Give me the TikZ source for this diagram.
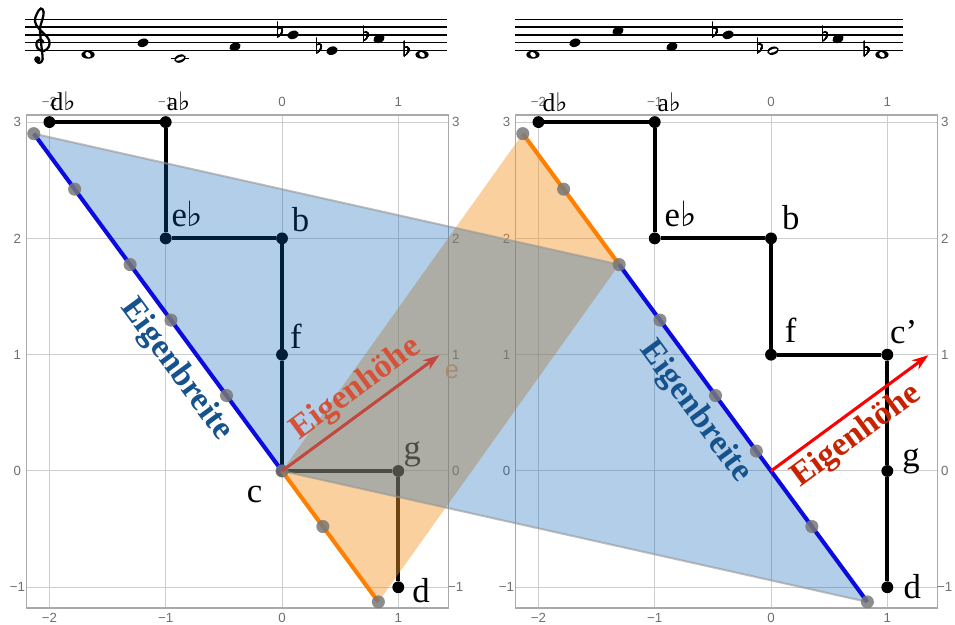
\documentclass[tikz,border=0pt]{standalone}
\usepackage{fontspec}
\setmainfont{Liberation Serif}
\setsansfont{Liberation Sans}
\newfontfamily\musicfont{DejaVu Sans}
\usetikzlibrary{arrows.meta,calc,positioning}

\definecolor{gridgray}{RGB}{205,205,205}
\definecolor{framegray}{RGB}{170,170,170}
\definecolor{tickgray}{RGB}{110,110,110}
\definecolor{projgray}{RGB}{120,120,120}
\definecolor{eigenblue}{RGB}{10,10,225}
\definecolor{eigenorange}{RGB}{255,128,0}
\definecolor{fillblue}{RGB}{6,97,181}
\definecolor{fillorange}{RGB}{245,150,40}
\definecolor{breitetext}{RGB}{22,82,140}
\definecolor{hoeheL}{RGB}{212,82,58}
\definecolor{arrowL}{RGB}{192,72,62}
\definecolor{hoeheR}{RGB}{200,35,0}
\definecolor{edgegray}{RGB}{150,150,150}
\definecolor{eorange}{RGB}{228,168,120}

\newcommand{\fl}{{\musicfont\bfseries ♭}}
\newcommand{\wholenote}[2]{%
  \fill (#1,#2) ellipse [x radius=0.057, y radius=0.035];
  \fill[white, rotate around={-40:(#1,#2)}] (#1,#2) ellipse [x radius=0.027, y radius=0.019];}
\newcommand{\halfnote}[2]{%
  \fill[rotate around={20:(#1,#2)}] (#1,#2) ellipse [x radius=0.051, y radius=0.034];
  \fill[white, rotate around={20:(#1,#2)}] (#1,#2) ellipse [x radius=0.038, y radius=0.014];}
\newcommand{\quarternote}[2]{%
  \fill[rotate around={20:(#1,#2)}] (#1,#2) ellipse [x radius=0.05, y radius=0.035];}

\begin{document}
\begin{tikzpicture}[x=2cm, y=2cm,
  every node/.style={inner sep=0pt, outer sep=0pt},
  gridline/.style={draw=gridgray, line width=0.5pt},
  frame/.style={draw=framegray, line width=0.6pt},
  tick/.style={font=\fontsize{6.5}{7}\sffamily, text=tickgray},
  staffline/.style={line width=0.6pt},
  flatsign/.style={anchor=base, font=\fontsize{10}{10}\selectfont},
  tonpath/.style={line width=2pt, line join=round},
  ton/.style={circle, fill=black, minimum size=5.8pt},
  proj/.style={circle, fill=projgray, fill opacity=0.85, minimum size=6.4pt},
  lab/.style={font=\fontsize{17}{17}\selectfont, anchor=base west},
  toplab/.style={lab, font=\fontsize{12.5}{13}\selectfont},
  breite/.style={font=\fontsize{16.5}{17}\selectfont\bfseries, text=breitetext, rotate=-53.65},
  hoehe/.style={font=\fontsize{16.5}{17}\selectfont\bfseries, rotate=36.35},
  ebline/.style={draw=eigenblue, line width=2pt},
  orline/.style={draw=eigenorange, line width=2pt},
  edge/.style={draw=edgegray, draw opacity=0.6, line width=1pt},
  arr/.style={-{Stealth[length=8pt,width=5.5pt]}, line width=1.5pt}]
\useasboundingbox (-2.425,-1.316) rectangle (5.787,4.050);

\foreach \o in {0,4.205} {
  \foreach \gx in {-2,-1,0,1} \draw[gridline] (\o+\gx,-1.178) -- (\o+\gx,3.061);
  \foreach \gy in {-1,0,1,2,3} \draw[gridline] (\o-2.197,\gy) -- (\o+1.431,\gy);
  \draw[frame] (\o-2.197,-1.178) rectangle (\o+1.431,3.061);
  \foreach \gx/\t in {-2/−2,-1/−1,0/0,1/1} {
    \node[tick] at (\o+\gx,3.17) {\t};
    \node[tick] at (\o+\gx,-1.262) {\t};
  }
  \foreach \gy/\t in {3/3,2/2,1/1,0/0,-1/−1} {
    \node[tick] at (\o-2.275,\gy) {\t};
    \node[tick] at (\o+1.494,\gy) {\t};
  }
}

\foreach \s in {0,2,4,6,8} {
  \draw[staffline] (-2.210,3.614+\s*0.0339) -- (1.419,3.614+\s*0.0339);
  \draw[staffline] (2.003,3.614+\s*0.0339) -- (5.340,3.614+\s*0.0339);
}
\begin{scope}[shift={(-4.14cm,7.364cm)}, x=0.1356cm, y=0.1356cm]
  \draw[line width=1.1pt, line cap=round] plot[smooth, tension=0.7] coordinates {
    (0.25,0.05) (0.0,0.4) (-0.5,0.2) (-0.6,-0.35) (-0.25,-0.9) (0.4,-1.0) (0.95,-0.5)
    (1.0,0.3) (0.5,1.0) (-0.3,1.8) (-0.8,2.7) (-0.55,3.7) (-0.05,4.35) (0.3,3.9)
    (0.15,3.0) (-0.15,1.8) (-0.05,0.2) (0.15,-1.6) (0.1,-2.3) (-0.35,-2.55) (-0.7,-2.2)};
  \fill (-0.5,-2.1) circle [radius=0.4];
\end{scope}
\draw[staffline] (-0.957,3.546) -- (-0.797,3.546);
\wholenote{-1.668}{3.580}
\halfnote{-0.877}{3.546}
\wholenote{1.204}{3.580}
\wholenote{2.158}{3.580}
\halfnote{4.222}{3.614}
\wholenote{5.159}{3.580}
\foreach \nx/\ny in {-1.195/3.682, -0.404/3.648, 0.095/3.750, 0.430/3.614, 0.834/3.716,
  2.519/3.682, 2.889/3.784, 3.353/3.648, 3.835/3.750, 4.781/3.716}
  \quarternote{\nx}{\ny}
\foreach \fx/\fy in {-0.015/3.730, 0.320/3.594, 0.724/3.696, 1.074/3.560,
  3.725/3.730, 4.112/3.594, 4.671/3.696, 5.029/3.560}
  \node[flatsign] at (\fx,\fy) {$\flat$};

\node[ton] (Ldb) at (-2,3) {};
\node[ton] (Lab) at (-1,3) {};
\node[ton] (Leb) at (-1,2) {};
\node[ton] (Lb) at (0,2) {};
\node[ton] (Lf) at (0,1) {};
\node[ton] (Lc) at (0,0) {};
\node[ton] (Lg) at (1,0) {};
\node[ton] (Ld) at (1,-1) {};
\draw[tonpath] (Ldb) -- (Lab) -- (Leb) -- (Lb) -- (Lf) -- (Lc) -- (Lg) -- (Ld);
\node[toplab] (Ldb-l) at ($(Ldb)+(0.01,0.10)$) {d\fl};
\node[toplab] (Lab-l) at ($(Lab)+(0.01,0.10)$) {a\fl};
\node[lab] (Leb-l) at ($(Leb)+(0.05,0.10)$) {e\fl};
\node[lab] (Lb-l) at ($(Lb)+(0.085,0.06)$) {b};
\node[lab] (Lf-l) at ($(Lf)+(0.07,0.05)$) {f};
\node[lab, anchor=base east] (Lc-l) at ($(Lc)+(-0.17,-0.27)$) {c};
\node[lab] (Lg-l) at ($(Lg)+(0.045,0.095)$) {g};
\node[lab] (Ld-l) at ($(Ld)+(0.12,-0.13)$) {d};
\node[font=\fontsize{12.5}{13}\sffamily, text=eorange] (Le-l) at (1.462,0.851) {e};

\coordinate (Lu) at ($(Lc)+(126.35:1)$);
\coordinate (Ro) at (4.205,0);
\coordinate (Ru) at ($(Ro)+(126.35:1)$);
\node[ton] (Rdb) at (2.205,3) {};
\node[ton] (Rab) at (3.205,3) {};
\node[ton] (Reb) at (3.205,2) {};
\node[ton] (Rb) at (4.205,2) {};
\node[ton] (Rf) at (4.205,1) {};
\node[ton] (Rc) at (5.205,1) {};
\node[ton] (Rg) at (5.205,0) {};
\node[ton] (Rd) at (5.205,-1) {};
\foreach \n in {db,ab,eb,b,f,c,g,d} {
  \coordinate (Lp\n) at ($(Lc)!(L\n)!(Lu)$);
  \coordinate (Rp\n) at ($(Ro)!(R\n)!(Ru)$);
}

\fill[fillorange, fill opacity=0.45] (Lc.center) -- (Lpd) -- (Rpeb) -- (Rpdb) -- cycle;
\fill[fillblue, fill opacity=0.31] (Lpdb) -- (Rpeb) -- (Rpd) -- (Lc.center) -- cycle;
\draw[edge] (Lpdb) -- (Rpeb);
\draw[edge] (Lc.center) -- (Rpd);
\draw[ebline] (Lpdb) -- (Lc.center);
\draw[orline] (Lc.center) -- (Lpd);
\draw[orline] (Rpdb) -- (Rpeb);
\draw[ebline] (Rpeb) -- (Rpd);
\foreach \n in {db,ab,eb,b,f,c,g,d} {
  \node[proj] at (Lp\n) {};
  \node[proj] at (Rp\n) {};
}

\coordinate (Lh) at ($(Lc)+(36.35:1.68)$);
\draw[arr, arrowL] (Lc.center) -- (Lh);
\node[hoehe, text=hoeheL] (Lh-l) at ($(Lc)!0.555!(Lh)+(126.35:0.19)$) {Eigenhöhe};
\node[breite] (Lbr-l) at ($(Lc)+(126.35:1.239)+(216.35:0.219)$) {Eigenbreite};

\draw[tonpath] (Rdb) -- (Rab) -- (Reb) -- (Rb) -- (Rf) -- (Rc) -- (Rg) -- (Rd);
\node[toplab] (Rdb-l) at ($(Rdb)+(0.035,0.095)$) {d\fl};
\node[toplab] (Rab-l) at ($(Rab)+(0.025,0.095)$) {a\fl};
\node[lab] (Reb-l) at ($(Reb)+(0.085,0.10)$) {e\fl};
\node[lab] (Rb-l) at ($(Rb)+(0.095,0.077)$) {b};
\node[lab] (Rf-l) at ($(Rf)+(0.12,0.103)$) {f};
\node[lab] (Rc-l) at ($(Rc)+(0.025,0.095)$) {c’};
\node[lab] (Rg-l) at ($(Rg)+(0.13,0.035)$) {g};
\node[lab] (Rd-l) at ($(Rd)+(0.14,-0.095)$) {d};
\coordinate (Rh) at ($(Ro)+(36.35:1.68)$);
\draw[arr, red] (Ro) -- (Rh);
\node[hoehe, text=hoeheR] (Rh-l) at ($(Ro)!0.458!(Rh)+(126.35:-0.196)$) {Eigenhöhe};
\node[breite] (Rbr-l) at ($(Ro)+(126.35:0.795)+(216.35:0.226)$) {Eigenbreite};
\end{tikzpicture}
\end{document}
